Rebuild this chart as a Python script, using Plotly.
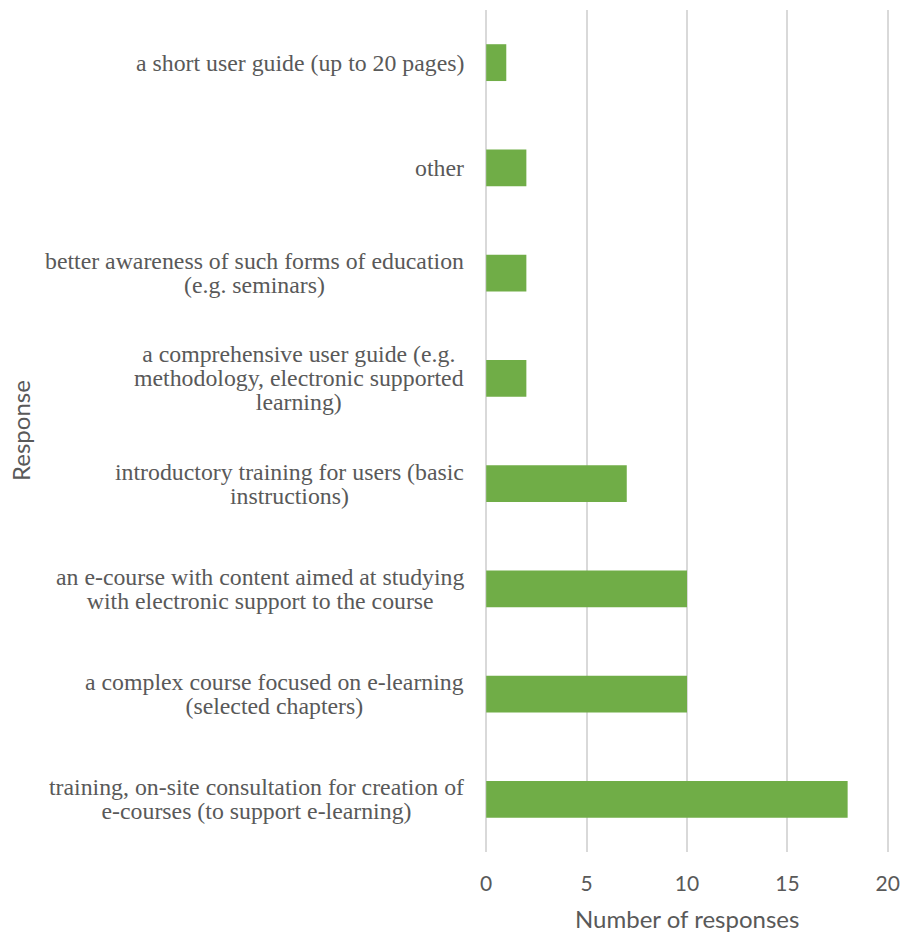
import plotly.graph_objects as go

categories = [
    "a short user guide (up to 20 pages)",
    "other",
    "better awareness of such forms of education (e.g. seminars)",
    "a comprehensive user guide (e.g. methodology, electronic supported learning)",
    "introductory training for users (basic instructions)",
    "an e-course with content aimed at studying with electronic support to the course",
    "a complex course focused on e-learning (selected chapters)",
    "training, on-site consultation for creation of e-courses (to support e-learning)",
]
label_lines = [
    ["a short user guide (up to 20 pages)"],
    ["other"],
    ["better awareness of such forms of education", "(e.g. seminars)"],
    ["a comprehensive user guide (e.g.", "methodology, electronic supported", "learning)"],
    ["introductory training for users (basic", "instructions)"],
    ["an e-course with content aimed at studying", "with electronic support to the course"],
    ["a complex course focused on e-learning", "(selected chapters)"],
    ["training, on-site consultation for creation of", "e-courses (to support e-learning)"],
]
values = [1, 2, 2, 2, 7, 10, 10, 18]
x_ticks = [0, 5, 10, 15, 20]

W, H = 902, 935
L, R, T, B = 485, 13, 10, 83
plot_w = W - L - R
plot_h = H - T - B

TXT = "#595959"
fig = go.Figure(go.Bar(
    x=values, y=categories, orientation="h",
    marker=dict(color="#70AD47", line=dict(width=0)),
    width=0.35,
))

annotations = []
for cat, lines in zip(categories, label_lines):
    txt = "<br>".join('<span style="font-size:23.8px">%s</span>' % ln for ln in lines)
    annotations.append(dict(
        text=txt, xref="paper", x=-(L - 466) / plot_w, xanchor="right",
        yref="y", y=cat, yanchor="middle", align="center", showarrow=False,
        font=dict(family="Liberation Serif, Times New Roman, serif", size=18.5, color=TXT),
    ))
annotations.append(dict(
    text="Number of responses", xref="paper", x=(687 - L) / plot_w, xanchor="center",
    yref="paper", y=-(919 - (H - B)) / plot_h, yanchor="middle", showarrow=False,
    font=dict(family="Lato, Carlito, sans-serif", size=24, color=TXT),
))
annotations.append(dict(
    text="Response", textangle=-90, xref="paper", x=-(L - 20) / plot_w, xanchor="center",
    yref="paper", y=(H - B - 431) / plot_h, yanchor="middle", showarrow=False,
    font=dict(family="Lato, Carlito, sans-serif", size=24, color=TXT),
))

fig.update_layout(
    width=W, height=H,
    margin=dict(l=L, r=R, t=T, b=B),
    plot_bgcolor="white", paper_bgcolor="white",
    showlegend=False,
    xaxis=dict(
        range=[-0.06, 20.06], tickvals=x_ticks, showgrid=True, gridcolor="#D9D9D9", gridwidth=1.5,
        zeroline=True, zerolinecolor="#D9D9D9", zerolinewidth=1.5, showline=False, automargin=False,
        tickfont=dict(family="Lato, Carlito, sans-serif", size=21, color=TXT),
        ticks="outside", ticklen=13, tickcolor="rgba(0,0,0,0)",
    ),
    yaxis=dict(
        autorange="reversed", showgrid=False, zeroline=False, showline=False,
        showticklabels=False, automargin=False,
    ),
    annotations=annotations,
)

fig.write_html(
    "out.html",
    config={"displayModeBar": False},
    post_script="document.body.style.margin='0';document.body.style.overflow='hidden';",
)
